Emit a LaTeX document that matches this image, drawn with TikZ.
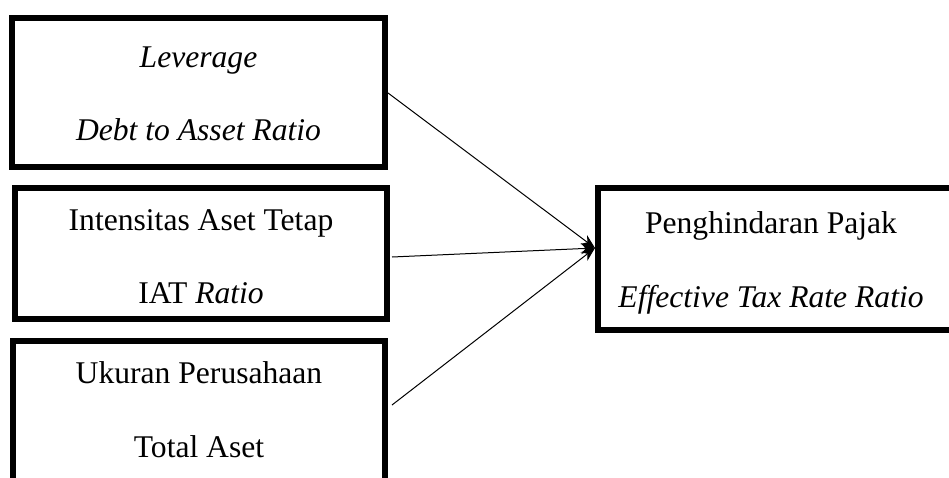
\documentclass[tikz,border=0pt]{standalone}
\usepackage{fontspec}
\setmainfont{Liberation Serif}
\usetikzlibrary{arrows.meta}
\begin{document}
\begin{tikzpicture}[x=1pt,y=-1pt,
  box/.style={draw=black,line width=6pt,rectangle,inner sep=0pt},
  txt/.style={anchor=base,inner sep=0pt,font=\fontsize{31.6}{36}\selectfont},
  conn/.style={draw=black,line width=1pt,-{Stealth[length=14pt,width=11pt]}}]
\useasboundingbox (0,0) rectangle (949,477);
\clip (0,0) rectangle (949,477);
\fill[white] (0,0) rectangle (949,477);
\node[box,minimum width=373pt,minimum height=149pt] (lev) at (198.5,92.5) {};
\node[box,minimum width=372pt,minimum height=131pt] (iat) at (201,253.5) {};
\node[box,minimum width=372pt,minimum height=159pt] (uk) at (199,420.5) {};
\node[box,minimum width=357pt,minimum height=142pt] (pj) at (776.5,259) {};
\node[txt] (levA) at (198.5,67) {\itshape Leverage};
\node[txt] (levB) at (198.5,140) {\itshape Debt to Asset Ratio};
\node[txt] (iatA) at (201,230) {Intensitas Aset Tetap};
\node[txt] (iatB) at (201,303) {IAT \textit{Ratio}};
\node[txt] (ukA) at (199,383) {Ukuran Perusahaan};
\node[txt] (ukB) at (199,457) {Total Aset};
\node[txt] (pjA) at (771,233) {Penghindaran Pajak};
\node[txt] (pjB) at (771,307) {\itshape Effective Tax Rate Ratio};
\draw[conn] ([yshift=-0.5pt]lev.east) -- ([yshift=11pt]pj.west);
\draw[conn] ([yshift=-3.5pt,xshift=2pt]iat.east) -- ([yshift=11pt]pj.west);
\draw[conn] ([yshift=15.5pt,xshift=4pt]uk.east) -- ([yshift=11pt]pj.west);
\end{tikzpicture}
\end{document}
